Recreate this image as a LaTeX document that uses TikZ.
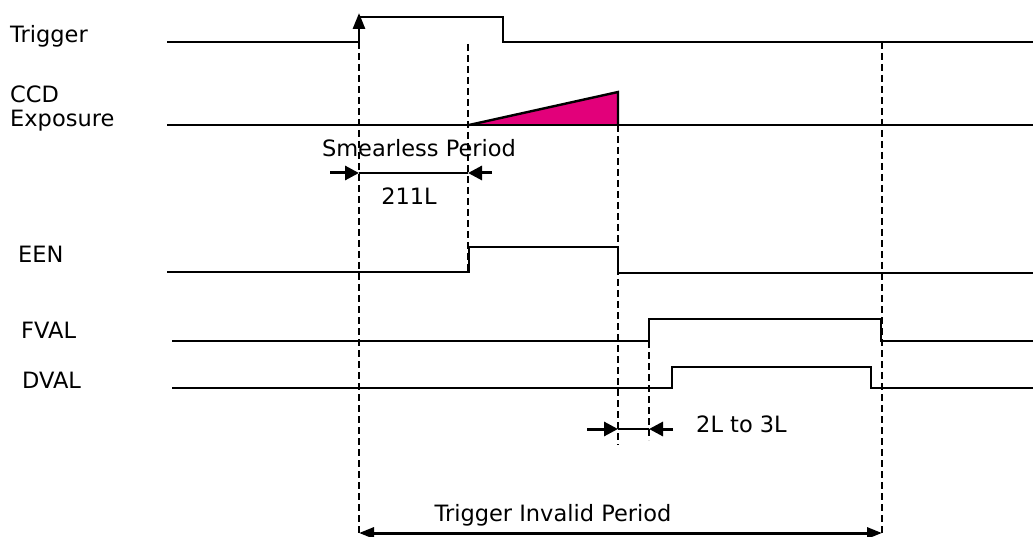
\documentclass[tikz,border=0pt]{standalone}
\usepackage{fontspec}
\setmainfont{DejaVu Sans}
\usetikzlibrary{arrows.meta}
\definecolor{expo}{HTML}{E2007A}
\begin{document}
\begin{tikzpicture}[x=1pt,y=-1pt,
  sig/.style={line width=2.8pt,line cap=butt},
  guide/.style={line width=2.8pt,dash pattern=on 7pt off 4pt},
  thin/.style={line width=1.8pt},
  dimarrow/.style={line width=3pt,-{Triangle[length=14pt,width=14pt]}},
  lbl/.style={anchor=base west,inner sep=0pt,font=\fontsize{22.5}{24}\selectfont},
  txt/.style={anchor=base,inner sep=0pt,font=\fontsize{22.5}{24}\selectfont}]
\useasboundingbox (0,0) rectangle (1033,537);
% signal labels
\node[lbl] (ltrig) at (10,43) {Trigger};
\node[lbl] (lccd) at (10,103) {CCD};
\node[lbl] (lexp) at (10,127) {Exposure};
\node[lbl] (leen) at (18,263) {EEN};
\node[lbl] (lfval) at (21,338) {FVAL};
\node[lbl] (ldval) at (22,388) {DVAL};
% key coordinates
\coordinate (t0) at (359,42);
\coordinate (t1) at (468,44);
\coordinate (t2) at (618,92);
\coordinate (t3) at (649,341);
\coordinate (t4) at (882,42);
% Trigger
\draw[sig] (167,42) -- (t0);
\draw[line width=2.8pt,-{Triangle[length=16pt,width=12pt]}] (t0) -- (359,13);
\draw[sig] (358,17) -- (503,17) -- (503,42) -- (1033,42);
% CCD exposure
\fill[expo] (469,125) -- (t2) -- (618,125) -- cycle;
\draw[line width=2.4pt] (469,125) -- (t2) -- (618,125);
\draw[sig] (167,125) -- (1033,125);
% EEN
\draw[sig] (167,272) -- (469,272) -- (469,247) -- (618,247) -- (618,273) -- (1033,273);
% FVAL
\draw[sig] (172,341) -- (649,341) -- (649,319) -- (881,319) -- (881,341) -- (1033,341);
% DVAL
\draw[sig] (172,388) -- (672,388) -- (672,367) -- (871,367) -- (871,388) -- (1033,388);
% guides
\draw[guide] (t0) -- (359,534);
\draw[guide] (t1) -- (468,272);
\draw[guide] (t2) -- (618,445);
\draw[guide] (t3) -- (649,440);
\draw[guide] (t4) -- (882,534);
% smearless period
\node[txt] (smear) at (419,157) {Smearless Period};
\coordinate (sa) at (330,173);
\coordinate (sb) at (359,173);
\coordinate (sc) at (468,173);
\coordinate (sd) at (492,173);
\draw[dimarrow] (sa) -- (sb);
\draw[thin] (sb) -- (sc);
\draw[dimarrow] (sd) -- (sc);
\node[txt] (l211) at (409,205) {211L};
% 2L to 3L
\coordinate (da) at (587,429);
\coordinate (db) at (618,429);
\coordinate (dc) at (649,429);
\coordinate (dd) at (673,429);
\draw[dimarrow] (da) -- (db);
\draw[thin] (db) -- (dc);
\draw[dimarrow] (dd) -- (dc);
\node[lbl] (l23) at (696,432) {2L to 3L};
% trigger invalid period
\coordinate (ia) at (359,533);
\coordinate (ib) at (882,533);
\draw[line width=3pt,{Triangle[length=15pt,width=11pt]}-{Triangle[length=15pt,width=11pt]}] (ia) -- (ib);
\node[txt] (linv) at (553,521) {Trigger Invalid Period};
\end{tikzpicture}
\end{document}
